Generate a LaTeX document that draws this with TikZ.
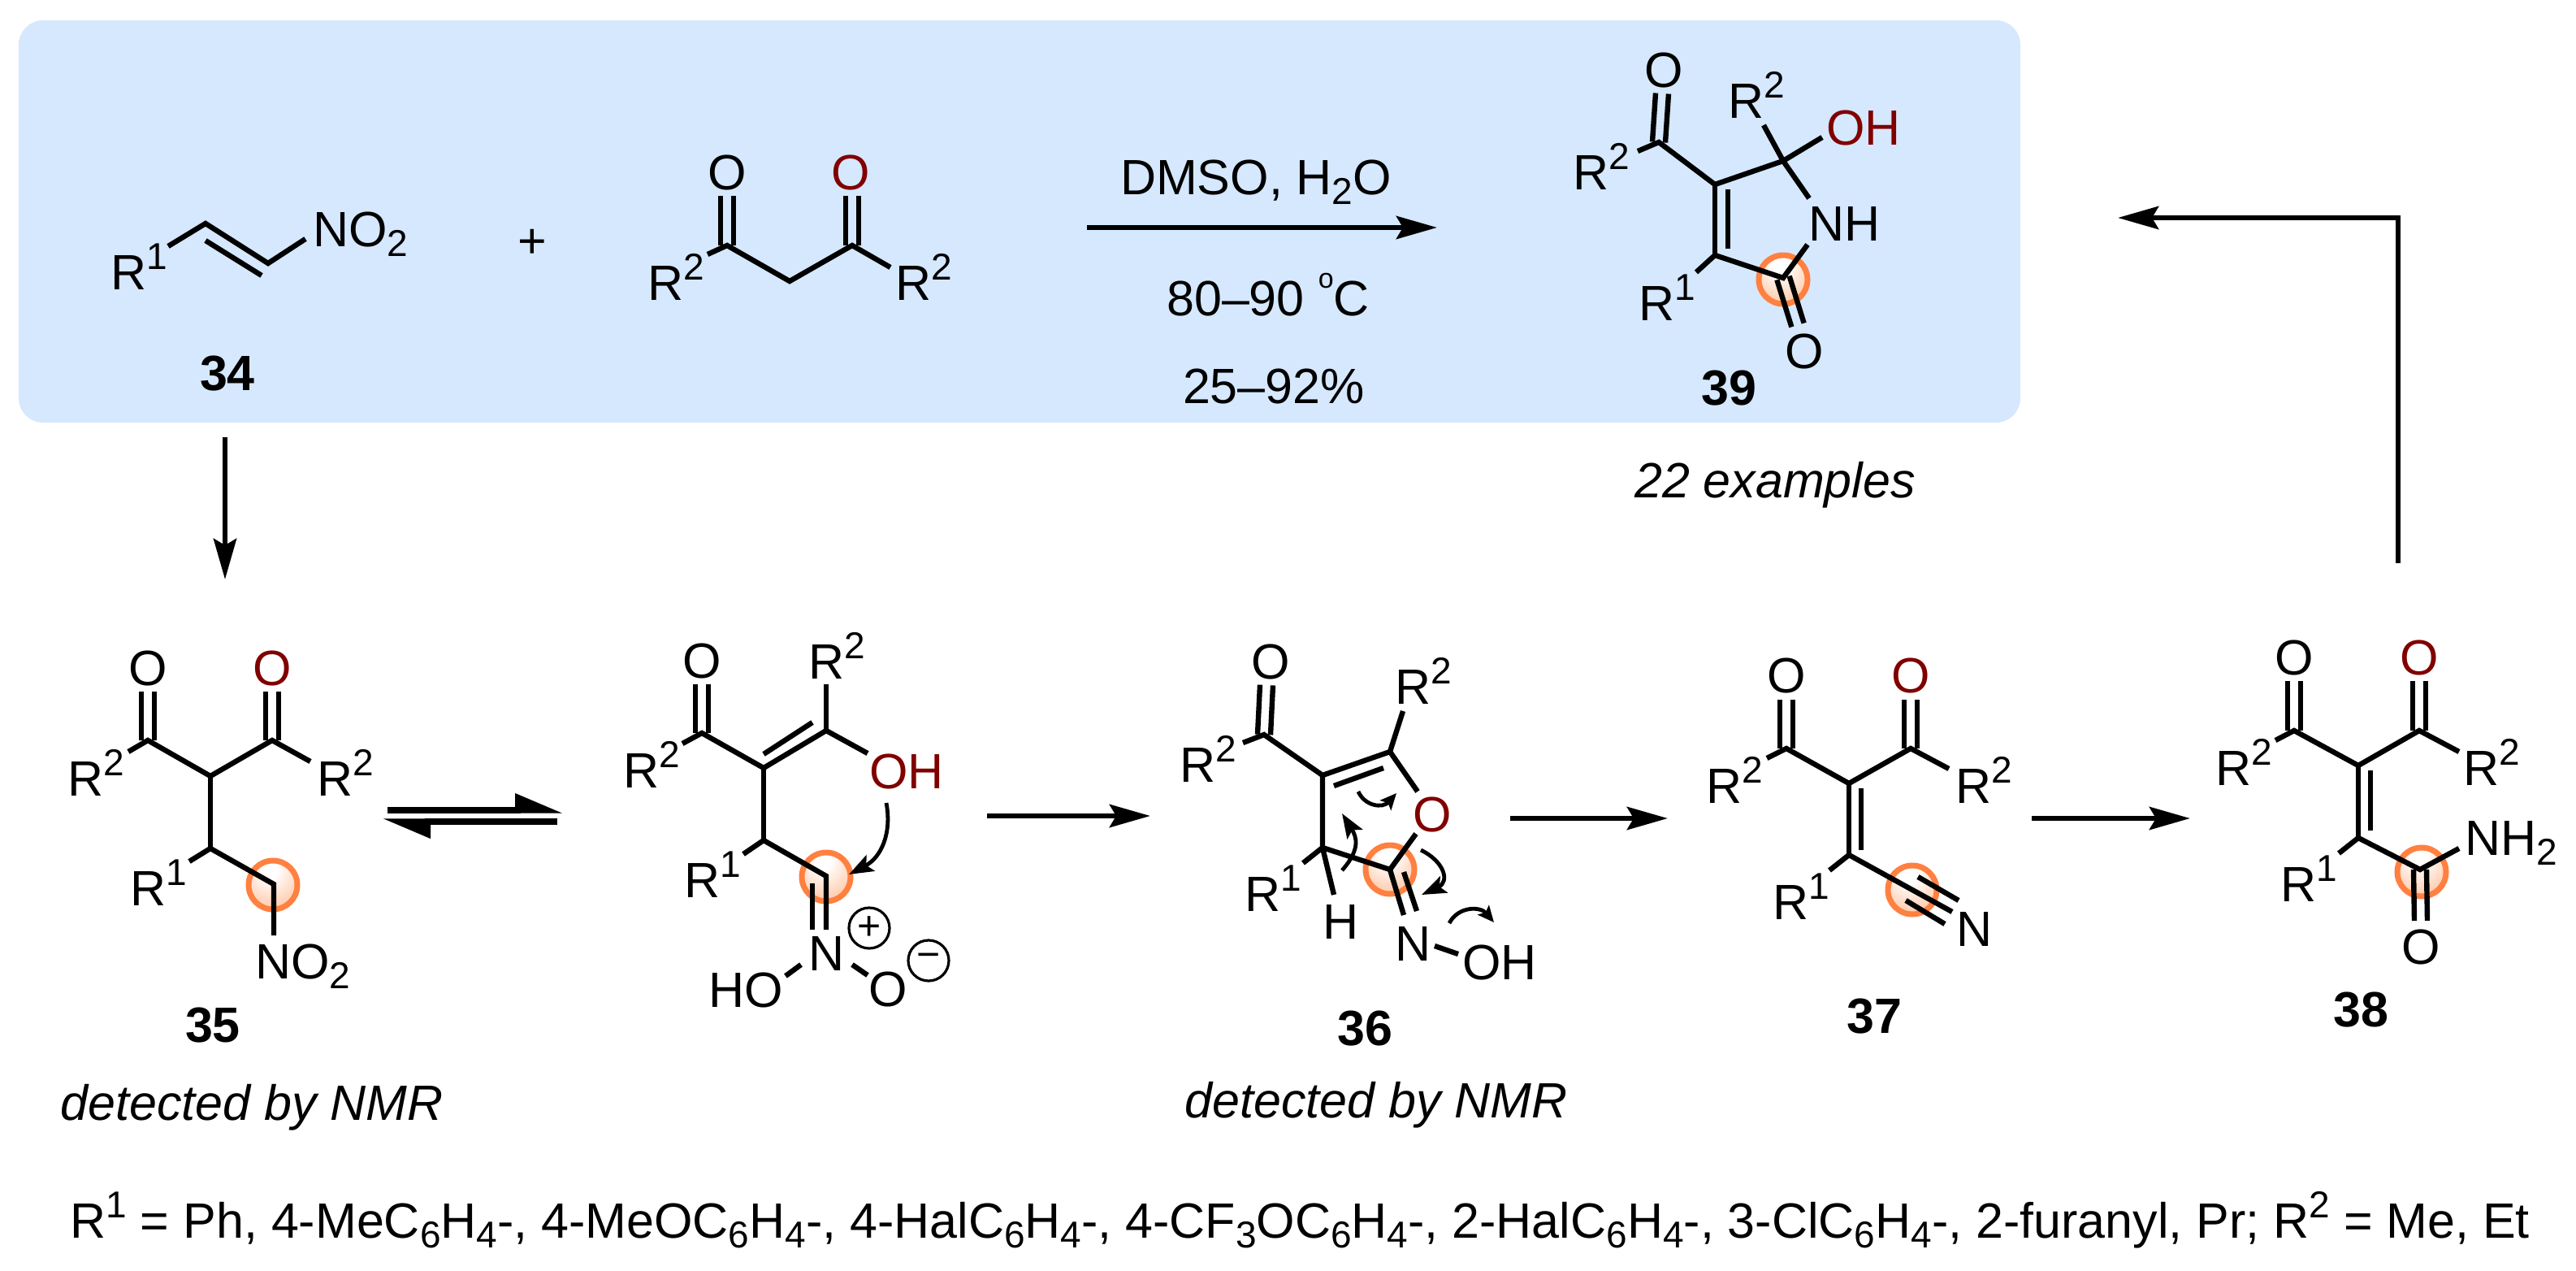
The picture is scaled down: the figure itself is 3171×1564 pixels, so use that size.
\documentclass[tikz,border=0pt]{standalone}
\usepackage{fontspec}
\setmainfont{Liberation Sans}
\usetikzlibrary{calc, arrows.meta}
\definecolor{panelblue}{RGB}{213, 232, 253}
\definecolor{oxyred}{RGB}{128, 0, 0}
\definecolor{haloring}{RGB}{255, 128, 64}
\definecolor{halomid}{RGB}{255, 205, 175}
\definecolor{halosoft}{RGB}{255, 150, 95}
\pgfdeclareradialshading{haloshade}{\pgfpoint{-4bp}{18bp}}{color(0bp)=(white); color(8bp)=(white); color(32bp)=(halomid); color(58bp)=(halosoft); color(70bp)=(halosoft)}
\newcommand{\chemfont}{\fontsize{30.5}{34}\selectfont}
\newcommand{\chemup}[1]{\raisebox{12.5pt}{\fontsize{23}{23}\selectfont #1}}
\newcommand{\chemdn}[1]{\raisebox{-6pt}{\fontsize{23}{23}\selectfont #1}}
\newcommand{\rone}{R\chemup{1}}
\newcommand{\rtwo}{R\chemup{2}}
\newcommand{\dblbond}[2]{
    \draw[bond] ($(#1)!4pt!90:(#2)$) -- ($(#2)!4pt!-90:(#1)$);
    \draw[bond] ($(#1)!4pt!-90:(#2)$) -- ($(#2)!4pt!90:(#1)$);
}
\tikzset{
    bond/.style={line width=3.2pt, line join=miter},
    rxnarrow/.style={line width=3.4pt, -{Stealth[length=25pt, width=14pt, inset=4pt]}},
    halfup/.style={line width=3.6pt, -{Stealth[left, length=25pt, width=20pt, inset=0pt]}},
    curlyarrow/.style={line width=2.4pt, -{Stealth[length=15pt, width=11pt, inset=3pt]}},
    curlysmall/.style={line width=2.4pt, -{Stealth[length=10pt, width=9pt, inset=2pt]}},
    atom/.style={anchor=base west},
    oxygen/.style={anchor=center},
    redoxygen/.style={anchor=center, text=oxyred},
    cpdlabel/.style={anchor=center, font=\chemfont\bfseries},
    condition/.style={anchor=base},
    remark/.style={anchor=base, font=\chemfont\itshape},
    halo/.style={circle, draw=haloring, line width=3.5pt, shading=haloshade, minimum size=30pt},
    chargering/.style={circle, draw, line width=1.6pt, minimum size=25pt, font=\fontsize{25}{25}\selectfont}
}
\begin{document}
\begin{tikzpicture}[x=0.5pt, y=-0.5pt,
        every node/.style={inner sep=0pt, font=\chemfont}
    ]
    \useasboundingbox (0,0) rectangle (3171,1564);
    % --- PANEL ---
    \node[fill=panelblue, rounded corners=15pt, minimum width=1232pt, minimum height=247.5pt] (panel) at (1255,272.5) {};

    % --- HALOS ---
    \node[halo] (hpy) at (2195,344) {};
    \node[halo] (had) at (336,1089) {};
    \node[halo] (hen) at (1017,1079) {};
    \node[halo] (hfu) at (1711,1070) {};
    \node[halo] (hcn) at (2354,1095) {};
    \node[halo] (ham) at (2981,1073) {};

    % --- 34 ---
    \coordinate (ni1) at (207,303);
    \coordinate (ni2) at (253,275);
    \coordinate (ni3) at (330,324);
    \coordinate (ni4) at (376,294);
    \coordinate (ni5) at (253,296);
    \coordinate (ni6) at (322,339);
    \draw[bond] (ni1) -- (ni2) -- (ni3) -- (ni4);
    \draw[bond] (ni5) -- (ni6);
    \node[atom] (nir) at (136,356) {\rone};
    \node[atom] (nin) at (385,303) {NO\chemdn{2}};
    \node[cpdlabel] (lbl34) at (280,460) {34};
    \node (plus) at (655,300) {+};

    % --- DIKETONE ---
    \coordinate (dk1) at (871,313);
    \coordinate (dk2) at (895,302);
    \coordinate (dk3) at (972,346);
    \coordinate (dk4) at (1049,302);
    \coordinate (dk5) at (1096,329);
    \coordinate (dk6) at (895,241);
    \coordinate (dk7) at (1049,241);
    \draw[bond] (dk1) -- (dk2) -- (dk3) -- (dk4) -- (dk5);
    \dblbond{dk2}{dk6}
    \dblbond{dk4}{dk7}
    \node[oxygen] (dko1) at (895,212) {O};
    \node[redoxygen] (dko2) at (1047,212) {O};
    \node[atom] (dkr1) at (797,369) {\rtwo};
    \node[atom] (dkr2) at (1102,369) {\rtwo};

    % --- CONDITIONS ---
    \coordinate (rxa) at (1338,280);
    \coordinate (rxb) at (1769,280);
    \draw[rxnarrow] (rxa) -- (rxb);
    \node[condition] (cond1) at (1546,239) {DMSO, H\chemdn{2}O};
    \node[condition] (cond2) at (1561,388) {80--90 \raisebox{17pt}{\fontsize{17}{17}\selectfont o}C};
    \node[condition] (cond3) at (1568,496) {25--92\%};

    % --- 39 ---
    \coordinate (py1) at (2016,186);
    \coordinate (py2) at (2042,175);
    \coordinate (py3) at (2111,227);
    \coordinate (py4) at (2195,198);
    \coordinate (py5) at (2171,154);
    \coordinate (py6) at (2243,169);
    \coordinate (py7) at (2227,244);
    \coordinate (py8) at (2225,301);
    \coordinate (py9) at (2195,342);
    \coordinate (py10) at (2111,314);
    \coordinate (py11) at (2088,335);
    \coordinate (py12) at (2127,233);
    \coordinate (py13) at (2127,306);
    \coordinate (py14) at (2046,115);
    \coordinate (py15) at (2213,400);
    \draw[bond] (py1) -- (py2) -- (py3) -- (py4) -- (py6);
    \draw[bond] (py5) -- (py4) -- (py7);
    \draw[bond] (py8) -- (py9) -- (py10) -- (py11);
    \draw[bond] (py3) -- (py10);
    \draw[bond] (py12) -- (py13);
    \dblbond{py2}{py14}
    \dblbond{py9}{py15}
    \node[oxygen] (pyo1) at (2048,86) {O};
    \node[oxygen] (pyo2) at (2221,432) {O};
    \node[atom] (pyr1) at (1936,233) {\rtwo};
    \node[atom] (pyr2) at (2127,145) {\rtwo};
    \node[atom] (pyr3) at (2017,394) {\rone};
    \node[atom, text=oxyred] (pyoh) at (2248,178) {OH};
    \node[atom] (pynh) at (2226,296) {NH};
    \node[cpdlabel] (lbl39) at (2128,478) {39};
    \node[remark] (rem22) at (2185,612) {22 examples};

    % --- RETURN ARROW ---
    \coordinate (reta) at (2952,693);
    \coordinate (retb) at (2952,268);
    \coordinate (retc) at (2607,268);
    \draw[rxnarrow] (reta) -- (retb) -- (retc);

    % --- 34 TO 35 ---
    \coordinate (dna) at (277,538);
    \coordinate (dnb) at (277,713);
    \draw[rxnarrow] (dna) -- (dnb);

    % --- 35 ---
    \coordinate (ad1) at (158,925);
    \coordinate (ad2) at (182,911);
    \coordinate (ad3) at (259,955);
    \coordinate (ad4) at (335,911);
    \coordinate (ad5) at (382,937);
    \coordinate (ad6) at (259,1044);
    \coordinate (ad7) at (233,1060);
    \coordinate (ad8) at (337,1088);
    \coordinate (ad9) at (337,1151);
    \coordinate (ad10) at (182,851);
    \coordinate (ad11) at (335,851);
    \draw[bond] (ad1) -- (ad2) -- (ad3) -- (ad4) -- (ad5);
    \draw[bond] (ad3) -- (ad6);
    \draw[bond] (ad7) -- (ad6) -- (ad8) -- (ad9);
    \dblbond{ad2}{ad10}
    \dblbond{ad4}{ad11}
    \node[oxygen] (ado1) at (182,822) {O};
    \node[redoxygen] (ado2) at (335,822) {O};
    \node[atom] (adr1) at (83,979) {\rtwo};
    \node[atom] (adr2) at (390,979) {\rtwo};
    \node[atom] (adr3) at (160,1114) {\rone};
    \node[atom] (adn) at (314,1204) {NO\chemdn{2}};
    \node[cpdlabel] (lbl35) at (262,1262) {35};
    \node[remark] (rem35) at (310,1378) {detected by NMR};

    % --- EQUILIBRIUM ---
    \coordinate (eqa) at (477,997);
    \coordinate (eqb) at (693,997);
    \coordinate (eqc) at (686,1011);
    \coordinate (eqd) at (471,1011);
    \draw[halfup] (eqa) -- (eqb);
    \draw[halfup] (eqc) -- (eqd);

    % --- ENOL ---
    \coordinate (en1) at (840,915);
    \coordinate (en2) at (864,902);
    \coordinate (en3) at (940,945);
    \coordinate (en4) at (1017,899);
    \coordinate (en5) at (1068,927);
    \coordinate (en6) at (1017,842);
    \coordinate (en7) at (940,928);
    \coordinate (en8) at (1000,889);
    \coordinate (en9) at (940,1034);
    \coordinate (en10) at (915,1051);
    \coordinate (en11) at (1017,1078);
    \coordinate (en12) at (1017,1144);
    \coordinate (en13) at (1000,1087);
    \coordinate (en14) at (1000,1144);
    \coordinate (en15) at (986,1187);
    \coordinate (en16) at (967,1201);
    \coordinate (en17) at (1049,1187);
    \coordinate (en18) at (1068,1200);
    \coordinate (en19) at (864,842);
    \draw[bond] (en1) -- (en2) -- (en3) -- (en4) -- (en5);
    \draw[bond] (en4) -- (en6);
    \draw[bond] (en7) -- (en8);
    \draw[bond] (en3) -- (en9);
    \draw[bond] (en10) -- (en9) -- (en11) -- (en12);
    \draw[bond] (en13) -- (en14);
    \draw[bond] (en15) -- (en16);
    \draw[bond] (en17) -- (en18);
    \dblbond{en2}{en19}
    \node[oxygen] (eno1) at (864,813) {O};
    \node[atom] (enr1) at (767,969) {\rtwo};
    \node[atom] (enr2) at (995,835) {\rtwo};
    \node[atom] (enr3) at (842,1104) {\rone};
    \node[atom, text=oxyred] (enoh) at (1070,970) {OH};
    \node[atom] (enn) at (995,1194) {N};
    \node[atom] (enho) at (872,1239) {HO};
    \node[oxygen] (eno2) at (1093,1217) {O};
    \node[chargering] (enplus) at (1070,1142) {+};
    \node[chargering] (enminus) at (1143,1182) {\char"2212};
    \coordinate (cua) at (1091,988);
    \coordinate (cub) at (1045,1076);
    \draw[curlyarrow] (cua) .. controls (1098,1025) and (1085,1055) .. (cub);

    % --- ENOL TO 36 ---
    \coordinate (sta) at (1215,1004);
    \coordinate (stb) at (1416,1004);
    \draw[rxnarrow] (sta) -- (stb);

    % --- 36 ---
    \coordinate (fu1) at (1530,914);
    \coordinate (fu2) at (1556,904);
    \coordinate (fu3) at (1628,954);
    \coordinate (fu4) at (1711,925);
    \coordinate (fu5) at (1745,974);
    \coordinate (fu6) at (1727,875);
    \coordinate (fu7) at (1642,967);
    \coordinate (fu8) at (1703,945);
    \coordinate (fu9) at (1743,1026);
    \coordinate (fu10) at (1711,1070);
    \coordinate (fu11) at (1628,1043);
    \coordinate (fu12) at (1604,1062);
    \coordinate (fu13) at (1642,1101);
    \coordinate (fu14) at (1728,1126);
    \coordinate (fu15) at (1728,1073);
    \coordinate (fu16) at (1744,1121);
    \coordinate (fu17) at (1766,1164);
    \coordinate (fu18) at (1795,1174);
    \coordinate (fu19) at (1559,843);
    \draw[bond] (fu1) -- (fu2) -- (fu3) -- (fu4) -- (fu5);
    \draw[bond] (fu4) -- (fu6);
    \draw[bond] (fu7) -- (fu8);
    \draw[bond] (fu9) -- (fu10) -- (fu11) -- (fu3);
    \draw[bond] (fu12) -- (fu11) -- (fu13);
    \draw[bond] (fu10) -- (fu14);
    \draw[bond] (fu15) -- (fu16);
    \draw[bond] (fu17) -- (fu18);
    \dblbond{fu2}{fu19}
    \node[oxygen] (fuo1) at (1564,814) {O};
    \node[redoxygen] (fuo2) at (1763,1002) {O};
    \node[atom] (fur1) at (1452,962) {\rtwo};
    \node[atom] (fur2) at (1717,866) {\rtwo};
    \node[atom] (fur3) at (1532,1121) {\rone};
    \node[atom] (fuh) at (1628,1155) {H};
    \node[atom] (fun) at (1717,1182) {N};
    \node[atom] (fuoh) at (1800,1205) {OH};
    \node[cpdlabel] (lbl36) at (1680,1266) {36};
    \node[remark] (rem36) at (1694,1375) {detected by NMR};
    \coordinate (cva) at (1672,974);
    \coordinate (cvb) at (1719,976);
    \coordinate (cwa) at (1652,1071);
    \coordinate (cwb) at (1652,1001);
    \coordinate (cxa) at (1749,1046);
    \coordinate (cxb) at (1750,1101);
    \coordinate (cya) at (1784,1136);
    \coordinate (cyb) at (1839,1135);
    \draw[curlysmall] (cva) .. controls (1680,992) and (1702,995) .. (cvb);
    \draw[curlyarrow] (cwa) .. controls (1675,1045) and (1670,1030) .. (cwb);
    \draw[curlyarrow] (cxa) .. controls (1778,1060) and (1785,1085) .. (cxb);
    \draw[curlysmall] (cya) .. controls (1795,1115) and (1822,1115) .. (cyb);

    % --- 36 TO 37 ---
    \coordinate (tua) at (1859,1007);
    \coordinate (tub) at (2053,1007);
    \draw[rxnarrow] (tua) -- (tub);

    % --- 37 ---
    \coordinate (cn1) at (2175,933);
    \coordinate (cn2) at (2199,921);
    \coordinate (cn3) at (2276,964);
    \coordinate (cn4) at (2352,921);
    \coordinate (cn5) at (2399,946);
    \coordinate (cn6) at (2276,1052);
    \coordinate (cn7) at (2291,970);
    \coordinate (cn8) at (2291,1046);
    \coordinate (cn9) at (2252,1071);
    \coordinate (cn10) at (2403,1122);
    \coordinate (cn11) at (2361,1079);
    \coordinate (cn12) at (2411,1108);
    \coordinate (cn13) at (2346,1108);
    \coordinate (cn14) at (2394,1137);
    \coordinate (cn15) at (2199,861);
    \coordinate (cn16) at (2352,861);
    \draw[bond] (cn1) -- (cn2) -- (cn3) -- (cn4) -- (cn5);
    \draw[bond] (cn3) -- (cn6);
    \draw[bond] (cn7) -- (cn8);
    \draw[bond] (cn9) -- (cn6) -- (cn10);
    \draw[bond] (cn11) -- (cn12);
    \draw[bond] (cn13) -- (cn14);
    \dblbond{cn2}{cn15}
    \dblbond{cn4}{cn16}
    \node[oxygen] (cno1) at (2199,831) {O};
    \node[redoxygen] (cno2) at (2352,831) {O};
    \node[atom] (cnr1) at (2100,988) {\rtwo};
    \node[atom] (cnr2) at (2407,988) {\rtwo};
    \node[atom] (cnr3) at (2182,1131) {\rone};
    \node[atom] (cnn) at (2408,1164) {N};
    \node[cpdlabel] (lbl37) at (2307,1251) {37};

    % --- 37 TO 38 ---
    \coordinate (ssa) at (2501,1007);
    \coordinate (ssb) at (2696,1007);
    \draw[rxnarrow] (ssa) -- (ssb);

    % --- 38 ---
    \coordinate (am1) at (2801,911);
    \coordinate (am2) at (2824,899);
    \coordinate (am3) at (2903,942);
    \coordinate (am4) at (2978,899);
    \coordinate (am5) at (3027,925);
    \coordinate (am6) at (2903,1031);
    \coordinate (am7) at (2918,948);
    \coordinate (am8) at (2918,1022);
    \coordinate (am9) at (2879,1050);
    \coordinate (am10) at (2979,1070);
    \coordinate (am11) at (3027,1044);
    \coordinate (am12) at (2980,1133);
    \coordinate (am13) at (2824,838);
    \coordinate (am14) at (2978,838);
    \draw[bond] (am1) -- (am2) -- (am3) -- (am4) -- (am5);
    \draw[bond] (am3) -- (am6);
    \draw[bond] (am7) -- (am8);
    \draw[bond] (am9) -- (am6) -- (am10) -- (am11);
    \dblbond{am2}{am13}
    \dblbond{am4}{am14}
    \dblbond{am10}{am12}
    \node[oxygen] (amo1) at (2824,809) {O};
    \node[redoxygen] (amo2) at (2978,809) {O};
    \node[oxygen] (amo3) at (2980,1165) {O};
    \node[atom] (amr1) at (2727,966) {\rtwo};
    \node[atom] (amr2) at (3032,966) {\rtwo};
    \node[atom] (amr3) at (2807,1109) {\rone};
    \node[atom] (amn) at (3034,1052) {NH\chemdn{2}};
    \node[cpdlabel] (lbl38) at (2906,1243) {38};

    % --- SUBSTITUENTS ---
    \node[atom] (subst) at (86,1523) {R\chemup{1} = Ph, 4-MeC\chemdn{6}H\chemdn{4}-, 4-MeOC\chemdn{6}H\chemdn{4}-, 4-HalC\chemdn{6}H\chemdn{4}-, 4-CF\chemdn{3}OC\chemdn{6}H\chemdn{4}-, 2-HalC\chemdn{6}H\chemdn{4}-, 3-ClC\chemdn{6}H\chemdn{4}-, 2-furanyl, Pr; R\chemup{2} = Me, Et};
\end{tikzpicture}
\end{document}
